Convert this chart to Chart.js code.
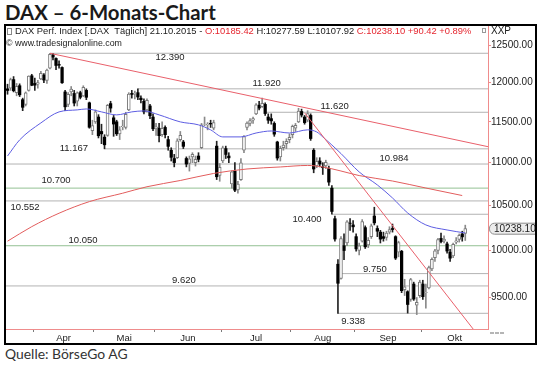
<!DOCTYPE html>
<html lang="de"><head><meta charset="utf-8"><title>DAX – 6-Monats-Chart</title>
<script src="https://cdn.jsdelivr.net/npm/chart.js@4.4.1/dist/chart.umd.min.js"></script>
<style>
html,body{margin:0;padding:0;background:#fff;}
body{width:540px;height:367px;position:relative;overflow:hidden;}
#title{position:absolute;left:5px;top:-1px;margin:0;font-family:Lato, sans-serif;font-weight:bold;font-size:21px;color:#1a1a1a;white-space:nowrap;}
#frame{position:absolute;left:4px;top:24px;width:529px;height:317px;border:2px solid #000;overflow:hidden;}
#src{position:absolute;left:5px;top:345px;margin:0;font-family:Lato, sans-serif;font-weight:normal;font-size:15px;color:#333;white-space:nowrap;}
#c{position:absolute;left:0;top:0;}
</style></head><body>
<div id="title">DAX – 6-Monats-Chart</div>
<div id="frame"><canvas id="c" width="529" height="317"></canvas></div>
<div id="src">Quelle: BörseGo AG</div>
<script>
// ---------- DATA ----------
const dates = [
'19.03.','20.03.','23.03.','24.03.','25.03.','26.03.','27.03.','30.03.','31.03.',
'01.04.','02.04.','07.04.','08.04.','09.04.','10.04.','13.04.','14.04.','15.04.','16.04.','17.04.','20.04.','21.04.','22.04.','23.04.','24.04.','27.04.','28.04.','29.04.','30.04.',
'04.05.','05.05.','06.05.','07.05.','08.05.','11.05.','12.05.','13.05.','14.05.','15.05.','18.05.','19.05.','20.05.','21.05.','22.05.','25.05.','26.05.','27.05.','28.05.','29.05.',
'01.06.','02.06.','03.06.','04.06.','05.06.','08.06.','09.06.','10.06.','11.06.','12.06.','15.06.','16.06.','17.06.','18.06.','19.06.','22.06.','23.06.','24.06.','25.06.','26.06.','29.06.','30.06.',
'01.07.','02.07.','03.07.','06.07.','07.07.','08.07.','09.07.','10.07.','13.07.','14.07.','15.07.','16.07.','17.07.','20.07.','21.07.','22.07.','23.07.','24.07.','27.07.','28.07.','29.07.','30.07.','31.07.',
'03.08.','04.08.','05.08.','06.08.','07.08.','10.08.','11.08.','12.08.','13.08.','14.08.','17.08.','18.08.','19.08.','20.08.','21.08.','24.08.','25.08.','26.08.','27.08.','28.08.','31.08.',
'01.09.','02.09.','03.09.','04.09.','07.09.','08.09.','09.09.','10.09.','11.09.','14.09.','15.09.','16.09.','17.09.','18.09.','21.09.','22.09.','23.09.','24.09.','25.09.','28.09.','29.09.','30.09.',
'01.10.','02.10.','05.10.','06.10.','07.10.','08.10.','09.10.','12.10.','13.10.','14.10.','15.10.','16.10.','19.10.','20.10.','21.10.'];
const futureDates = ['22.10.','23.10.','26.10.','27.10.','28.10.','29.10.','30.10.'];
const year = '2015';

const open = [
11920,11930,12040,11870,11960,11780,11720,11900,12090,
11990,11980,12050,12100,12030,12190,12370,12320,12240,12200,11880,11720,11880,11860,11760,11870,11830,11900,11740,11390,
11500,11560,11380,11310,11330,11730,11550,11500,11350,11440,11430,11650,11860,11850,11870,11800,11760,11650,11700,11560,
11420,11420,11340,11430,11280,11150,11050,11060,11280,11250,11050,10990,11070,11000,11080,11180,11470,11460,11480,11420,11200,10850,
11020,11170,11080,10750,10900,10680,10800,11150,11430,11480,11520,11600,11710,11690,11720,11560,11540,11480,11250,11070,11180,11230,11280,
11340,11420,11500,11630,11560,11520,11580,11150,10960,11020,10950,10960,10930,10700,10350,9850,9700,10050,10080,10300,10280,
10150,10000,10100,10250,10060,10150,10380,10240,10200,10150,10140,10200,10240,10150,9980,9990,9580,9560,9480,9640,9420,9520,
9640,9550,9600,9800,9920,10000,10130,10100,10070,9980,9940,10090,10120,10180,10185.42];
const high = [
11980,12060,12080,11990,11985,11800,11880,12090,12110,
12060,12030,12150,12120,12180,12390,12385,12330,12290,12210,11900,11870,11950,11900,11880,11890,11960,11920,11750,11520,
11650,11590,11470,11340,11720,11760,11580,11520,11440,11520,11620,11870,11900,11890,11920,11830,11790,11790,11720,11600,
11480,11480,11500,11450,11320,11180,11100,11290,11380,11270,11070,11080,11120,11080,11120,11480,11560,11490,11520,11520,11260,10990,
11200,11200,11120,10900,11000,10780,11050,11330,11500,11540,11560,11730,11760,11802,11740,11600,11600,11500,11260,11200,11260,11290,11350,
11460,11480,11670,11660,11580,11640,11600,11170,11060,11060,11000,11030,10960,10730,10380,9900,10150,10180,10330,10350,10330,
10180,10080,10340,10270,10140,10290,10480,10270,10220,10200,10210,10260,10290,10160,10100,10000,9690,9570,9700,9660,9500,9680,
9680,9640,9830,9920,10010,10130,10190,10160,10090,10010,10080,10140,10180,10210,10277.59];
const low = [
11850,11900,11880,11830,11820,11640,11700,11890,11960,
11900,11930,12040,12000,11990,12180,12300,12170,12190,11990,11640,11690,11830,11700,11700,11790,11820,11780,11420,11340,
11480,11300,11230,11167,11320,11620,11320,11330,11280,11400,11410,11640,11800,11790,11780,11740,11600,11620,11540,11390,
11330,11250,11320,11300,11150,11020,10950,11050,11260,11170,10950,10900,11000,10960,11010,11170,11450,11400,11430,11400,10800,10780,
11000,11050,11000,10700,10660,10640,10790,11120,11400,11450,11480,11590,11650,11680,11580,11480,11470,11320,11030,11020,11150,11170,11240,
11300,11380,11490,11560,11470,11500,11270,10880,10940,10950,10860,10930,10730,10400,10100,9338,9690,9900,10050,10220,10200,
9990,9950,10090,10020,10030,10130,10280,10150,10080,10100,10110,10180,10200,9900,9930,9550,9520,9340,9460,9470,9325,9500,
9480,9390,9590,9780,9880,9960,10080,10080,9970,9880,9920,10070,10090,10100,10107.92];
const close = [
11899,12039,11895,11954,11843,11683,11868,12086,11966,
11968,12002,12124,12035,12166,12375,12338,12227,12231,11999,11689,11850,11918,11737,11867,11811,11939,11811,11432,11454,
11625,11327,11350,11216,11709,11673,11472,11351,11401,11447,11594,11853,11848,11864,11815,11780,11625,11771,11576,11413,
11436,11328,11419,11340,11197,11064,11001,11265,11332,11197,10984,11045,11100,11041,11040,11461,11472,11471,11473,11492,10833,10945,
11180,11099,11058,10890,10676,10747,10997,11316,11485,11516,11540,11716,11673,11734,11604,11520,11512,11347,11056,11173,11212,11257,11308,
11444,11456,11636,11585,11490,11604,11293,10925,11015,10985,10940,11005,10770,10432,10124,9648,10128,9998,10315,10298,10259,
10016,10048,10318,10038,10108,10271,10303,10210,10123,10131,10188,10227,10229,9916,10084,9571,9612,9428,9688,9484,9450,9660,
9509,9553,9814,9902,9994,10118,10096,10124,9992,9915,10065,10104,10165,10147.68,10238.10];

const yTicks = [9500,10000,10500,11000,11500,12000,12500];
const monthNames = {'04':'Apr','05':'Mai','06':'Jun','07':'Jul','08':'Aug','09':'Sep','10':'Okt'};

// horizontal support / resistance levels
const levelValues = [12390,11920,11620,11167,10984,10700,10552,10400,10050,9750,9620,9338];
const levelLabels = ['12.390','11.920','11.620','11.167','10.984','10.700','10.552','10.400','10.050','9.750','9.620','9.338'];
const levelStart  = ['10.04.','22.05.','21.07.','07.05.',null,null,null,'20.08.',null,'25.08.',null,'24.08.'];

// moving averages (day index, value)
const maShortIdx = [0,4,11,17,23,26,31,36,41,45,50,57,63,67,71,77,82,87,93,99,102,104,110,116,122,127,132,138,145,151];
const maShortVal = [11080,11276,11486,11625,11650,11662,11625,11587,11625,11637,11587,11499,11462,11400,11313,11313,11361,11386,11361,11400,11374,11313,11110,10890,10737,10586,10415,10280,10224,10190];
const maLongIdx  = [0,8,17,27,38,46,57,68,79,90,99,104,110,116,127,138,150];
const maLongVal  = [10100,10261,10412,10544,10641,10716,10789,10872,10925,10949,10967,10949,10901,10847,10783,10701,10614];

// trend lines (day index, value)
const trendHigh  = [[14,12390],[158.5,11193]];
const trendCrash = [[98,11613],[153.6,9180]];

// ---------- STYLE / LAYOUT ----------
const levelColor = levelValues.map(v => (v===10700||v===10050) ? '#93c193' : '#b3b3b3');
const labelAt = [53.6,85.5,107.9,21.9,127.5,16,5.8,98.8,24.9,121.2,58.2,114];
const labelDy = [4.6,-5.7,-5.5,-0.8,-6,-7.6,6.8,5.2,-5.2,-3.8,-5.3,8.2];
const AXIS_RED = '#ef8c8c', TREND_RED = '#e9606b', MA_RED = '#e25d5d', MA_BLUE = '#5d5de2';
const FONT = '"Liberation Sans", Arial, sans-serif';

// fit HTML title/source
function fit(el, target, baseline){
  const cs = getComputedStyle(el);
  const c = document.createElement('canvas').getContext('2d');
  c.font = cs.fontWeight + ' 20px ' + cs.fontFamily;
  const m = c.measureText(el.textContent);
  const size = 20*target/m.width;
  const asc = m.fontBoundingBoxAscent*size/20, desc = m.fontBoundingBoxDescent*size/20;
  el.style.fontSize = size.toFixed(2)+'px';
  el.style.lineHeight = (asc+desc).toFixed(2)+'px';
  el.style.top = (baseline-asc).toFixed(2)+'px';
}
fit(document.getElementById('title'), 211, 20);
fit(document.getElementById('src'), 123, 360);

// ---------- SCALES ----------
const allDates = dates.concat(futureDates);
const xMin = -0.5, xMax = allDates.length - 0.5;
const mon = d => d.slice(3,5);
const monthTicks = [];
let segStart = xMin, segMon = mon(allDates[0]);
for (let i=1;i<=allDates.length;i++){
  if (i===allDates.length || mon(allDates[i])!==segMon){
    const b = i-0.5;
    if (monthNames[segMon]) monthTicks.push({value:(segStart+b)/2, lbl:monthNames[segMon]});
    if (i<allDates.length) monthTicks.push({value:b, b:true, lbl:''});
    segStart = b;
    if (i<allDates.length) segMon = mon(allDates[i]);
  }
}
monthTicks.sort((a,b)=>a.value-b.value);

// ---------- DATASETS ----------
const N = dates.length;
const ids = dates.map((_,i)=>i);
const up = ids.filter(i=>close[i]>=open[i]);
const dn = ids.filter(i=>close[i]<open[i]);
const datasets = [];
levelValues.forEach((v,k)=>{
  const s = levelStart[k]===null ? xMin : dates.indexOf(levelStart[k]);
  datasets.push({type:'line', data:[{x:s,y:v},{x:xMax,y:v}], borderColor:levelColor[k], borderWidth:1, pointRadius:0, order:10});
});
datasets.push({type:'bar', data:up.map(i=>({x:i,y:[low[i],high[i]]})), backgroundColor:'#8a8a8a', barThickness:1, grouped:false, order:7});
datasets.push({type:'bar', data:dn.map(i=>({x:i,y:[low[i],high[i]]})), backgroundColor:'#222', barThickness:1, grouped:false, order:7});
datasets.push({type:'bar', data:up.map(i=>({x:i,y:[open[i],close[i]]})), backgroundColor:'#fff', borderColor:'#7a7a7a', borderWidth:1, borderSkipped:false, barThickness:3, grouped:false, order:6});
datasets.push({type:'bar', data:dn.map(i=>({x:i,y:[close[i],open[i]]})), backgroundColor:'#000', borderWidth:0, barThickness:2.6, grouped:false, order:6});
datasets.push({type:'line', data:maLongIdx.map((x,k)=>({x, y:maLongVal[k]})), borderColor:MA_RED, borderWidth:1, pointRadius:0, cubicInterpolationMode:'monotone', order:3});
datasets.push({type:'line', data:maShortIdx.map((x,k)=>({x, y:maShortVal[k]})), borderColor:MA_BLUE, borderWidth:1, pointRadius:0, cubicInterpolationMode:'monotone', order:3});
datasets.push({type:'line', data:trendHigh.map(p=>({x:p[0],y:p[1]})), borderColor:TREND_RED, borderWidth:1, pointRadius:0, order:2});
datasets.push({type:'line', data:trendCrash.map(p=>({x:p[0],y:p[1]})), borderColor:TREND_RED, borderWidth:1, pointRadius:0, order:2});

// ---------- OVERLAY TEXT PLUGIN ----------
const overlay = {
  id:'overlay',
  afterDraw(chart){
    const {ctx, scales:{x,y}, chartArea:ca} = chart;
    ctx.save();
    // level labels
    ctx.font = '9.5px '+FONT; ctx.fillStyle = '#222'; ctx.textAlign='center'; ctx.textBaseline='middle';
    levelValues.forEach((v,k)=>{
      ctx.fillText(levelLabels[k], x.getPixelForValue(labelAt[k]), y.getPixelForValue(v)+labelDy[k]);
    });
    // header line
    const L = N-1;
    const chg = close[L]-close[L-1];
    const pct = chg/close[L-1]*100;
    const sg = v => (v>=0?'+':'')+v.toFixed(2);
    const dark='#222', red='#e5262f';
    const segs = [
      ['DAX Perf. Index [.DAX  Täglich] '+dates[L]+year+' - ', dark],
      ['O:'+open[L].toFixed(2), red],
      [' H:'+high[L].toFixed(2)+' L:'+low[L].toFixed(2)+' ', dark],
      ['C:'+close[L].toFixed(2)+' '+sg(chg)+' '+sg(pct)+'%', red]];
    ctx.font = '11px '+FONT;
    let tot = 0; segs.forEach(s=>tot+=ctx.measureText(s[0]).width);
    const fs = 11*457/tot;
    ctx.font = fs.toFixed(2)+'px '+FONT; ctx.textAlign='left';
    let px = 9;
    segs.forEach(s=>{ ctx.fillStyle=s[1]; ctx.fillText(s[0], px, 5.5); px += ctx.measureText(s[0]).width; });
    // small icon
    ctx.strokeStyle='#888'; ctx.lineWidth=1; ctx.strokeRect(1.5,2.5,4,6);
    // second line
    const t2 = '© www.tradesignalonline.com';
    ctx.font = '11px '+FONT; const w2 = ctx.measureText(t2).width;
    ctx.font = (11*116/w2).toFixed(2)+'px '+FONT; ctx.fillStyle='#222';
    ctx.fillText(t2, 0, 17.5);
    // XXP
    ctx.font = '10px '+FONT; ctx.fillStyle='#222'; ctx.fillText('XXP', ca.right+3, 5.5);
    ctx.strokeStyle='#999'; ctx.strokeRect(ca.right-5.5,2.5,3,4);
    // price box
    const py = y.getPixelForValue(close[L]);
    ctx.beginPath(); ctx.roundRect(ca.right+1.5, py-5.5, 60, 11, 5);
    ctx.fillStyle='#ececec'; ctx.fill(); ctx.strokeStyle='#8c8c8c'; ctx.stroke();
    ctx.fillStyle='#222'; ctx.font='10px '+FONT; ctx.fillText(close[L].toFixed(2), ca.right+6, py+0.5);
    // tiny scroll icon bottom right
    ctx.fillStyle='#b5b5b5';
    for (let k=0;k<3;k++) ctx.fillRect(ca.right+2+k*5, ca.bottom+3, 4, 2);
    ctx.restore();
  }
};

Chart.defaults.font.family = FONT;
new Chart(document.getElementById('c'), {
  type:'line',
  data:{datasets},
  options:{
    responsive:false, devicePixelRatio:1, animation:false, events:[],
    layout:{padding:0},
    plugins:{legend:{display:false}, tooltip:{enabled:false}},
    scales:{
      x:{type:'linear', min:xMin, max:xMax, bounds:'data', offset:false,
        afterBuildTicks(s){ s.ticks = monthTicks.map(t=>Object.assign({}, t)); },
        afterFit(s){ s.height = 14; s.paddingLeft=0; s.paddingRight=0; },
        ticks:{autoSkip:false, maxRotation:0, minRotation:0, padding:1, color:'#222', font:{size:9.5},
          callback:(v,i,t)=>t[i].lbl||''},
        grid:{drawOnChartArea:false, drawTicks:true, tickLength:3, offset:false,
          tickColor:c=>(c.tick && c.tick.b)?'#7a7a7a':'rgba(0,0,0,0)'},
        border:{display:true, color:AXIS_RED, width:1}
      },
      y:{type:'logarithmic', position:'right', min:9180, max:12763, bounds:'data',
        afterBuildTicks(s){ s.ticks = yTicks.map(v=>({value:v})); },
        afterFit(s){ s.width = 47; s.paddingTop=0; s.paddingBottom=0; },
        ticks:{autoSkip:false, padding:0, color:'#222', font:{size:10}, callback:v=>Number(v).toFixed(2)},
        grid:{drawOnChartArea:false, drawTicks:true, tickLength:3, tickColor:AXIS_RED},
        border:{display:true, color:AXIS_RED, width:1}
      }
    }
  },
  plugins:[overlay]
});
</script></body></html>
